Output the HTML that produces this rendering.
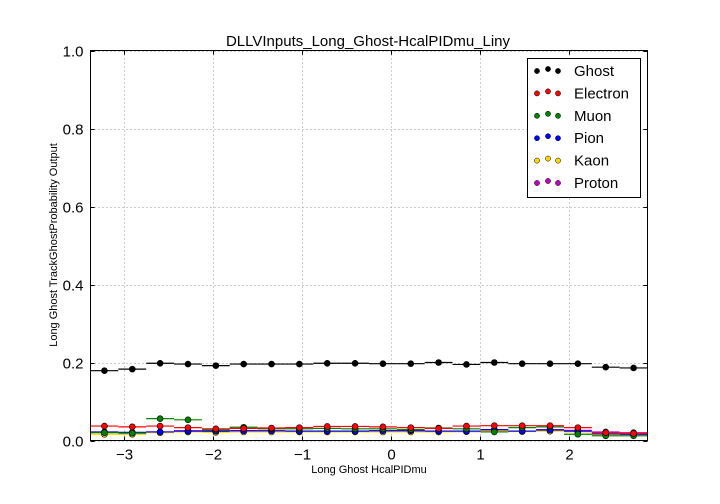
<!DOCTYPE html>
<html><head><meta charset="utf-8"><style>
body{margin:0;background:#fff;}
svg{display:block;font-family:"Liberation Sans",sans-serif;}
</style></head><body>
<svg id="chart" width="720" height="504" viewBox="0 0 720 504">
<rect x="0" y="0" width="720" height="504" fill="#fff"/>
<g id="grid"></g>
<g id="marks"></g>
<rect x="90.5" y="50.5" width="557" height="390" fill="none" stroke="#000" stroke-width="1"/>
<g id="ticks"></g>
<text x="368" y="46" font-size="15" text-anchor="middle">DLLVInputs_Long_Ghost-HcalPIDmu_Liny</text>
<text x="369" y="473" font-size="11" text-anchor="middle">Long Ghost HcalPIDmu</text>
<text transform="translate(57,245) rotate(-90)" font-size="11" text-anchor="middle">Long Ghost TrackGhostProbability Output</text>
<g id="legend">
<rect x="527.5" y="58.5" width="113" height="139" fill="#fff" stroke="#000"/>
</g>
</svg>
<script>
const xTicks = [-3, -2, -1, 0, 1, 2];
const yTicks = [0.0, 0.2, 0.4, 0.6, 0.8, 1.0];
const xMin = -3.37, xMax = 2.875, nBins = 20;
const seriesNames = ["Ghost", "Electron", "Muon", "Pion", "Kaon", "Proton"];
const seriesColors = ["#000000", "#ff0000", "#008000", "#0000ff", "#ffd700", "#bf00bf"];
const ghost    = [0.179,0.183,0.198,0.196,0.192,0.196,0.196,0.196,0.198,0.198,0.197,0.197,0.200,0.195,0.200,0.197,0.197,0.197,0.188,0.186];
const electron = [0.037,0.035,0.037,0.033,0.030,0.031,0.032,0.033,0.036,0.036,0.035,0.033,0.031,0.037,0.038,0.038,0.038,0.033,0.020,0.018];
const muon     = [0.020,0.019,0.056,0.053,0.027,0.034,0.030,0.030,0.031,0.030,0.030,0.028,0.032,0.030,0.022,0.033,0.035,0.016,0.012,0.012];
const pion     = [0.022,0.021,0.022,0.024,0.024,0.025,0.025,0.024,0.024,0.024,0.025,0.025,0.024,0.024,0.028,0.024,0.027,0.024,0.017,0.016];
const kaon     = [0.016,0.016,0.020,0.022,0.021,0.022,0.022,0.022,0.022,0.022,0.022,0.022,0.022,0.023,0.024,0.023,0.024,0.022,0.014,0.014];
const proton   = [0.021,0.020,0.022,0.025,0.023,0.025,0.024,0.023,0.023,0.024,0.025,0.025,0.024,0.023,0.026,0.024,0.028,0.026,0.022,0.020];
const allSeries = [ghost, electron, muon, pion, kaon, proton];

const L=90.5, R=647.5, T=50.5, B=440.5;
const xs = v => L + (v - xMin) / (xMax - xMin) * (R - L);
const ys = v => B - v * (B - T);
const NS = "http://www.w3.org/2000/svg";
function mk(tag, attrs, parent){const e=document.createElementNS(NS,tag);for(const k in attrs)e.setAttribute(k,attrs[k]);parent.appendChild(e);return e;}
const grid=document.getElementById('grid'), ticks=document.getElementById('ticks'), marks=document.getElementById('marks'), legend=document.getElementById('legend');

xTicks.forEach(t=>{
  const x=Math.round(xs(t))+0.5;
  const g=mk('line',{x1:x,x2:x,y1:T,y2:B,stroke:'#999','stroke-dasharray':'1,3'},grid);
  
  
  mk('line',{x1:x,x2:x,y1:B,y2:B-4,stroke:'#000'},ticks);
  mk('line',{x1:x,x2:x,y1:T,y2:T+4,stroke:'#000'},ticks);
  const tx=mk('text',{x:x,y:B+19,'font-size':15,'text-anchor':'middle'},ticks);
  tx.textContent=(t<0?'\u2212':'')+Math.abs(t);
  
  
});
yTicks.forEach(t=>{
  const y=Math.round(ys(t))+0.5;
  const g=mk('line',{x1:L,x2:R,y1:y,y2:y,stroke:'#999','stroke-dasharray':'1,3'},grid);
  
  
  mk('line',{x1:L,x2:L+4,y1:y,y2:y,stroke:'#000'},ticks);
  mk('line',{x1:R,x2:R-4,y1:y,y2:y,stroke:'#000'},ticks);
  const tx=mk('text',{x:L-7,y:y+5,'font-size':15,'text-anchor':'end'},ticks);
  tx.textContent=t.toFixed(1);
  
  
});

const bw=(xMax-xMin)/nBins;
for(let s=allSeries.length-1;s>=0;s--){
  const data=allSeries[s], col=seriesColors[s];
  const g=mk('g',{},marks);
  
  
  data.forEach((v,i)=>{
    const x0=xs(xMin+i*bw), x1=xs(xMin+(i+1)*bw), y=ys(v);
    const ln=mk('line',{x1:x0,x2:x1,y1:y,y2:y,stroke:col,'stroke-width':1.2},g);
    
    
    const c=mk('circle',{cx:(x0+x1)/2,cy:y,r:3,fill:col,stroke:'#000','stroke-width':0.6},g);
    
    
  });
}

seriesNames.forEach((n,i)=>{
  const y=71+i*22.4;
  const g=mk('g',{},legend);
  
  
  [[537,0],[548,-2],[558,0]].forEach(([x,dy])=>mk('circle',{cx:x,cy:y+dy,r:2.6,fill:seriesColors[i],stroke:'#000','stroke-width':0.5},g));
  const t=mk('text',{x:574,y:y+5,'font-size':15},g);
  t.textContent=n;
});
</script>
</body></html>
